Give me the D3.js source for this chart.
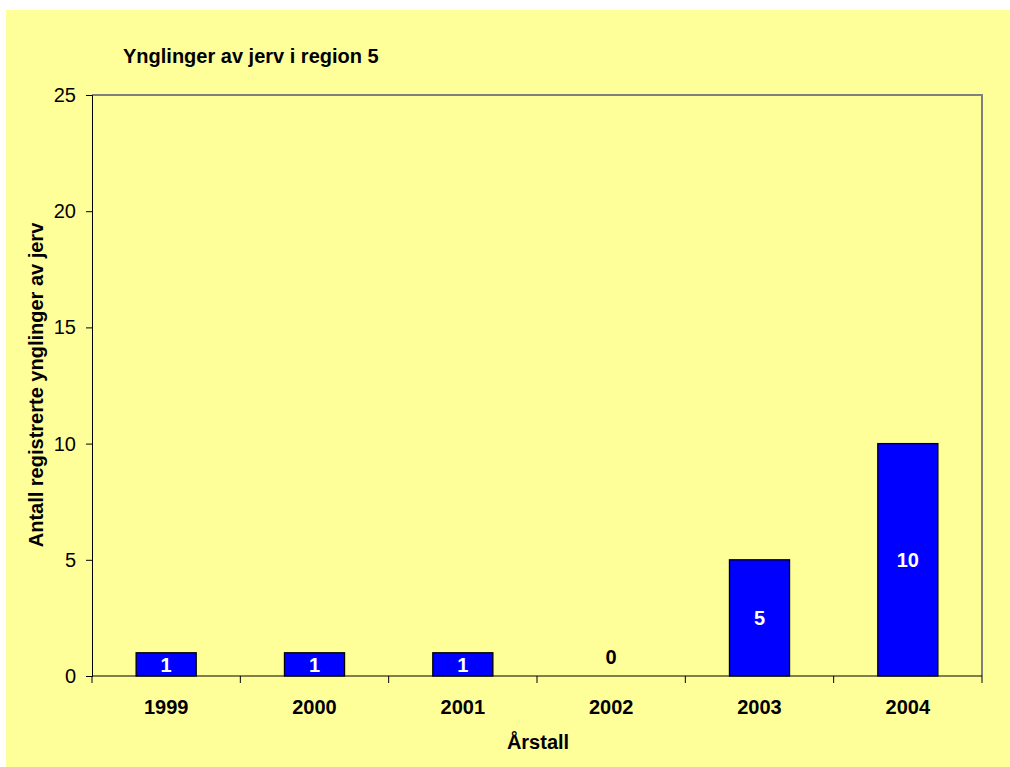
<!DOCTYPE html>
<html>
<head>
<meta charset="utf-8">
<script src="https://cdn.jsdelivr.net/npm/d3@7"></script>
<style>
  body { margin: 0; background: #fff; }
  svg { display: block; font-family: "Liberation Sans", Arial, sans-serif; }
</style>
</head>
<body>
<div id="chart"></div>
<script>
const w = 1010;
const h = 767;

const years = ["1999", "2000", "2001", "2002", "2003", "2004"];
const counts = [1, 1, 1, 0, 5, 10];
const yTicks = [0, 5, 10, 15, 20, 25];

const plotLeft = 92, plotRight = 982, plotTop = 95, plotBottom = 676;

const svg = d3.select("#chart")
  .append("svg")
  .attr("width", w)
  .attr("height", h);

svg.append("rect")
  .attr("x", 6).attr("y", 10)
  .attr("width", w - 6).attr("height", h - 10)
  .attr("fill", "#ffff99");

const x = d3.scaleBand()
  .domain(years)
  .range([plotLeft, plotRight])
  .paddingInner(0.595)
  .paddingOuter(0.2975);

const y = d3.scaleLinear()
  .domain([0, 25])
  .range([plotBottom, plotTop]);

// plot border (top and right, grey)
svg.append("path")
  .attr("d", `M${plotLeft},${plotTop}H${plotRight}V${plotBottom}`)
  .attr("fill", "none")
  .attr("stroke", "#808080")
  .attr("stroke-width", 2);

// bars
svg.selectAll("rect.bar")
  .data(counts)
  .enter()
  .append("rect")
  .attr("class", "bar")
  .attr("x", (d, i) => x(years[i]))
  .attr("y", d => y(d))
  .attr("width", x.bandwidth())
  .attr("height", d => plotBottom - y(d))
  .attr("fill", "#0000ff")
  .attr("stroke", "#000")
  .attr("stroke-width", 1.3)
  .style("display", d => d === 0 ? "none" : null);

// value labels
svg.selectAll("text.val")
  .data(counts)
  .enter()
  .append("text")
  .attr("class", "val")
  .attr("x", (d, i) => x(years[i]) + x.bandwidth() / 2)
  .attr("y", d => d === 0 ? plotBottom - 19 : (y(d) + plotBottom) / 2)
  .attr("dy", "0.36em")
  .attr("text-anchor", "middle")
  .attr("font-size", 20)
  .attr("font-weight", "bold")
  .attr("fill", d => d === 0 ? "#000" : "#fff")
  .text(d => d);

// y axis
const yAxis = svg.append("g")
  .attr("transform", `translate(${plotLeft},0)`)
  .call(d3.axisLeft(y).tickValues(yTicks).tickSize(6).tickPadding(10));
yAxis.select(".domain").attr("stroke", "#000");
yAxis.selectAll("text")
  .attr("font-size", 20)
  .attr("font-family", "Liberation Sans, Arial, sans-serif")
  .attr("fill", "#000");

// x axis with ticks between categories
const xAxisG = svg.append("g")
  .attr("transform", `translate(0,${plotBottom})`);
xAxisG.append("line")
  .attr("x1", plotLeft).attr("x2", plotRight)
  .attr("stroke", "#000");
const step = x.step();
const bounds = d3.range(years.length + 1).map(i => plotLeft + i * step);
xAxisG.selectAll("line.tick")
  .data(bounds)
  .enter()
  .append("line")
  .attr("class", "tick")
  .attr("x1", d => d).attr("x2", d => d)
  .attr("y1", 0).attr("y2", 7)
  .attr("stroke", "#000");
xAxisG.selectAll("text")
  .data(years)
  .enter()
  .append("text")
  .attr("x", d => x(d) + x.bandwidth() / 2)
  .attr("y", 38)
  .attr("text-anchor", "middle")
  .attr("font-size", 20)
  .attr("font-weight", "bold")
  .text(d => d);

// titles
svg.append("text")
  .attr("x", 123).attr("y", 63)
  .attr("font-size", 20)
  .attr("font-weight", "bold")
  .text("Ynglinger av jerv i region 5");

svg.append("text")
  .attr("x", 538).attr("y", 749)
  .attr("text-anchor", "middle")
  .attr("font-size", 20)
  .attr("font-weight", "bold")
  .text("Årstall");

svg.append("text")
  .attr("transform", `translate(43,385) rotate(-90)`)
  .attr("text-anchor", "middle")
  .attr("font-size", 20)
  .attr("font-weight", "bold")
  .text("Antall registrerte ynglinger av jerv");
</script>
</body>
</html>
